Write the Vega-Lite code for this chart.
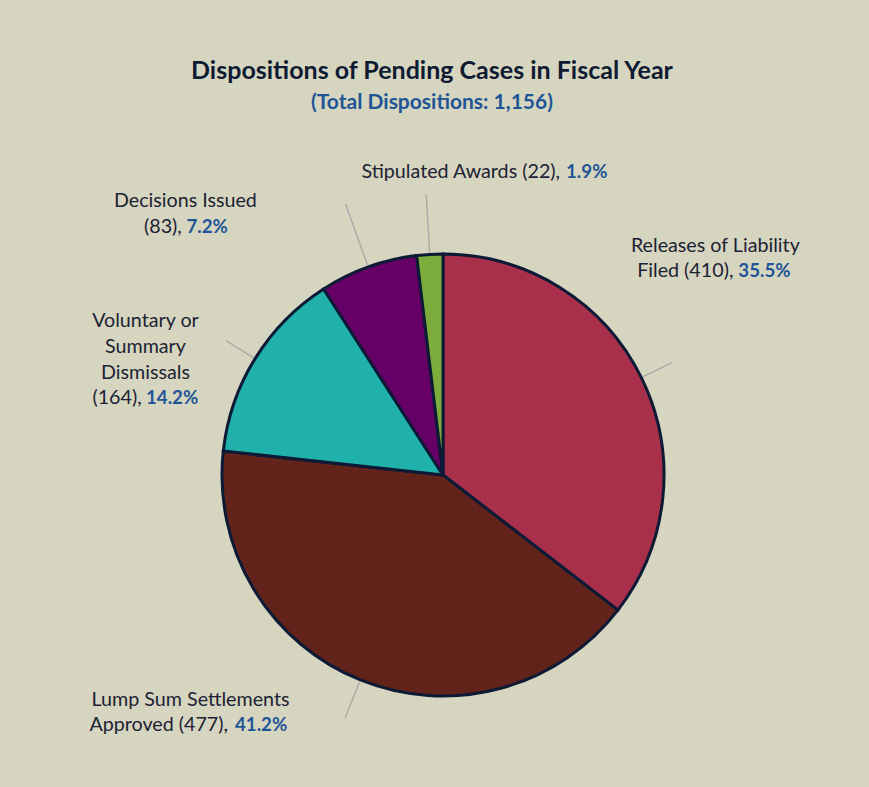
{
  "$schema": "https://vega.github.io/schema/vega-lite/v6.json",
  "autosize": "none",
  "padding": {"left": 17, "top": 163, "right": 0, "bottom": 0},
  "width": 852,
  "height": 624,
  "background": "#d6d5bf",
  "view": {"stroke": null},
  "title": {
    "text": "Dispositions of Pending Cases in Fiscal Year",
    "subtitle": "(Total Dispositions: 1,156)",
    "anchor": "middle",
    "frame": "group",
    "dx": -11,
    "offset": -1,
    "font": "Lato",
    "fontSize": 25,
    "fontWeight": "bold",
    "color": "#0f1a33",
    "subtitleFont": "Lato",
    "subtitleFontSize": 21,
    "subtitleFontWeight": "bold",
    "subtitleColor": "#1f5597",
    "subtitlePadding": 8
  },
  "data": {
    "values": [
      {"cat": "Releases of Liability Filed", "n": 410, "ord": 1, "head": ["Releases of Liability"], "tail": "Filed (410),", "pct": "35.5%"},
      {"cat": "Lump Sum Settlements Approved", "n": 477, "ord": 2, "head": ["Lump Sum Settlements"], "tail": "Approved (477),", "pct": "41.2%"},
      {"cat": "Voluntary or Summary Dismissals", "n": 164, "ord": 3, "head": ["Voluntary or", "Summary", "Dismissals"], "tail": "(164),", "pct": "14.2%"},
      {"cat": "Decisions Issued", "n": 83, "ord": 4, "head": ["Decisions Issued"], "tail": "(83),", "pct": "7.2%"},
      {"cat": "Stipulated Awards", "n": 22, "ord": 5, "head": [""], "tail": "Stipulated Awards (22),", "pct": "1.9%"}
    ]
  },
  "encoding": {
    "theta": {"field": "n", "type": "quantitative", "stack": true},
    "order": {"field": "ord", "type": "quantitative"},
    "detail": {"field": "cat", "type": "nominal"}
  },
  "layer": [
    {
      "mark": {"type": "arc", "outerRadius": 221, "stroke": "#0c1a36", "strokeWidth": 3},
      "encoding": {
        "color": {
          "field": "cat", "type": "nominal", "legend": null,
          "scale": {
            "domain": ["Releases of Liability Filed", "Lump Sum Settlements Approved", "Voluntary or Summary Dismissals", "Decisions Issued", "Stipulated Awards"],
            "range": ["#a8304a", "#62231a", "#20b2aa", "#660066", "#7cac3c"]
          }
        }
      }
    },
    {"mark": {"type": "arc", "innerRadius": 223, "outerRadius": 255, "padAngle": 3.5, "fillOpacity": 0, "stroke": "#a8a8a8", "strokeWidth": 1.3},
     "encoding": {"strokeOpacity": {"condition": {"test": "datum.ord===1", "value": 1}, "value": 0}}},
    {"mark": {"type": "arc", "innerRadius": 223, "outerRadius": 262, "padAngle": 3.5, "fillOpacity": 0, "stroke": "#a8a8a8", "strokeWidth": 1.3},
     "encoding": {"strokeOpacity": {"condition": {"test": "datum.ord===2", "value": 1}, "value": 0}}},
    {"mark": {"type": "arc", "innerRadius": 223, "outerRadius": 255, "padAngle": 3.5, "fillOpacity": 0, "stroke": "#a8a8a8", "strokeWidth": 1.3},
     "encoding": {"strokeOpacity": {"condition": {"test": "datum.ord===3", "value": 1}, "value": 0}}},
    {"mark": {"type": "arc", "innerRadius": 223, "outerRadius": 288, "padAngle": 3.5, "fillOpacity": 0, "stroke": "#a8a8a8", "strokeWidth": 1.3},
     "encoding": {"strokeOpacity": {"condition": {"test": "datum.ord===4", "value": 1}, "value": 0}}},
    {"mark": {"type": "arc", "innerRadius": 223, "outerRadius": 281, "padAngle": 3.5, "fillOpacity": 0, "stroke": "#a8a8a8", "strokeWidth": 1.3},
     "encoding": {"strokeOpacity": {"condition": {"test": "datum.ord===5", "value": 1}, "value": 0}}},

    {"mark": {"type": "text", "radius": 222, "dx": 73.1, "dy": -125.4, "align": "center", "baseline": "alphabetic", "font": "Lato", "fontSize": 19.7, "lineHeight": 25.6, "color": "#1c2234"},
     "encoding": {"text": {"field": "head"}, "opacity": {"condition": {"test": "datum.ord===1", "value": 1}, "value": 0}}},
    {"mark": {"type": "text", "radius": 222, "dx": 91.1, "dy": -99.8, "align": "right", "baseline": "alphabetic", "font": "Lato", "fontSize": 19.7, "color": "#1c2234"},
     "encoding": {"text": {"field": "tail"}, "opacity": {"condition": {"test": "datum.ord===1", "value": 1}, "value": 0}}},
    {"mark": {"type": "text", "radius": 222, "dx": 96.1, "dy": -99.8, "align": "left", "baseline": "alphabetic", "font": "Lato", "fontSize": 18.7, "fontWeight": "bold", "color": "#1f5597"},
     "encoding": {"text": {"field": "pct"}, "opacity": {"condition": {"test": "datum.ord===1", "value": 1}, "value": 0}}},

    {"mark": {"type": "text", "radius": 222, "dx": -169.5, "dy": 24.8, "align": "center", "baseline": "alphabetic", "font": "Lato", "fontSize": 19.7, "lineHeight": 25.6, "color": "#1c2234"},
     "encoding": {"text": {"field": "head"}, "opacity": {"condition": {"test": "datum.ord===2", "value": 1}, "value": 0}}},
    {"mark": {"type": "text", "radius": 222, "dx": -132, "dy": 50.1, "align": "right", "baseline": "alphabetic", "font": "Lato", "fontSize": 19.7, "color": "#1c2234"},
     "encoding": {"text": {"field": "tail"}, "opacity": {"condition": {"test": "datum.ord===2", "value": 1}, "value": 0}}},
    {"mark": {"type": "text", "radius": 222, "dx": -125, "dy": 50.1, "align": "left", "baseline": "alphabetic", "font": "Lato", "fontSize": 18.7, "fontWeight": "bold", "color": "#1f5597"},
     "encoding": {"text": {"field": "pct"}, "opacity": {"condition": {"test": "datum.ord===2", "value": 1}, "value": 0}}},

    {"mark": {"type": "text", "radius": 222, "dx": -108.8, "dy": -30.8, "align": "center", "baseline": "alphabetic", "font": "Lato", "fontSize": 19.7, "lineHeight": 25.6, "color": "#1c2234"},
     "encoding": {"text": {"field": "head"}, "opacity": {"condition": {"test": "datum.ord===3", "value": 1}, "value": 0}}},
    {"mark": {"type": "text", "radius": 222, "dx": -112.6, "dy": 45.9, "align": "right", "baseline": "alphabetic", "font": "Lato", "fontSize": 19.7, "color": "#1c2234"},
     "encoding": {"text": {"field": "tail"}, "opacity": {"condition": {"test": "datum.ord===3", "value": 1}, "value": 0}}},
    {"mark": {"type": "text", "radius": 222, "dx": -108.3, "dy": 45.9, "align": "left", "baseline": "alphabetic", "font": "Lato", "fontSize": 18.7, "fontWeight": "bold", "color": "#1f5597"},
     "encoding": {"text": {"field": "pct"}, "opacity": {"condition": {"test": "datum.ord===3", "value": 1}, "value": 0}}},

    {"mark": {"type": "text", "radius": 222, "dx": -182.5, "dy": -59.1, "align": "center", "baseline": "alphabetic", "font": "Lato", "fontSize": 19.7, "lineHeight": 25.6, "color": "#1c2234"},
     "encoding": {"text": {"field": "head"}, "opacity": {"condition": {"test": "datum.ord===4", "value": 1}, "value": 0}}},
    {"mark": {"type": "text", "radius": 222, "dx": -186.1, "dy": -33.1, "align": "right", "baseline": "alphabetic", "font": "Lato", "fontSize": 19.7, "color": "#1c2234"},
     "encoding": {"text": {"field": "tail"}, "opacity": {"condition": {"test": "datum.ord===4", "value": 1}, "value": 0}}},
    {"mark": {"type": "text", "radius": 222, "dx": -181.5, "dy": -33.1, "align": "left", "baseline": "alphabetic", "font": "Lato", "fontSize": 18.7, "fontWeight": "bold", "color": "#1f5597"},
     "encoding": {"text": {"field": "pct"}, "opacity": {"condition": {"test": "datum.ord===4", "value": 1}, "value": 0}}},

    {"mark": {"type": "text", "radius": 222, "dx": 130.3, "dy": -75.4, "align": "right", "baseline": "alphabetic", "font": "Lato", "fontSize": 19.7, "color": "#1c2234"},
     "encoding": {"text": {"field": "tail"}, "opacity": {"condition": {"test": "datum.ord===5", "value": 1}, "value": 0}}},
    {"mark": {"type": "text", "radius": 222, "dx": 136.3, "dy": -75.4, "align": "left", "baseline": "alphabetic", "font": "Lato", "fontSize": 18.7, "fontWeight": "bold", "color": "#1f5597"},
     "encoding": {"text": {"field": "pct"}, "opacity": {"condition": {"test": "datum.ord===5", "value": 1}, "value": 0}}}
  ]
}
